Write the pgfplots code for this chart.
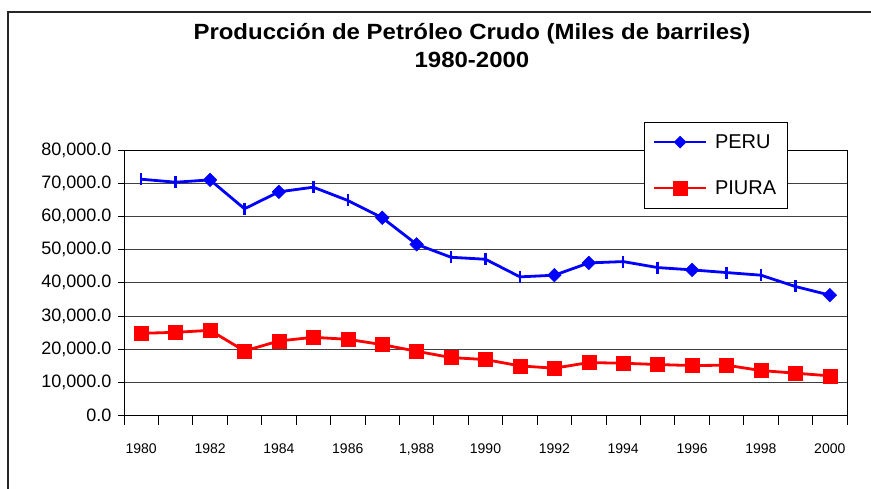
\documentclass[border=0pt]{standalone}
\usepackage{fontspec}
\setmainfont{Liberation Sans}
\usepackage{pgfplots}
\usepackage{pgfplotstable}
\pgfplotsset{compat=1.18}

% Produccion anual (miles de barriles)
\pgfplotstableread{
x  peru   piura
0  71200  24800
1  70300  25100
2  71000  25700
3  62300  19500
4  67400  22500
5  68800  23600
6  64800  23000
7  59600  21400
8  51600  19400
9  47700  17500
10 47100  16900
11 41800  15000
12 42300  14300
13 46000  16000
14 46400  15800
15 44600  15400
16 43900  15100
17 43100  15200
18 42300  13600
19 38900  12800
20 36300  12000
}\datos

\begin{document}
\begin{tikzpicture}
\begin{axis}[
    at={(124pt,73.3pt)}, anchor=south west,
    scale only axis,
    width=723pt, height=265.7pt,
    xmin=-0.5, xmax=20.5,
    ymin=0, ymax=80000,
    axis line style={black, line width=0.9pt},
    tick align=outside,
    tick pos=left,
    major tick length=9pt,
    xtick={-0.5,0.5,...,20.5},
    xticklabels={},
    x tick style={black, line width=0.9pt},
    extra x ticks={0,2,...,20},
    extra x tick labels={1980,1982,1984,1986,{1,988},1990,1992,1994,1996,1998,2000},
    extra x tick style={grid=none, tick style={draw=none}},
    xticklabel style={font=\fontsize{14}{16}\selectfont, yshift=-15pt},
    ytick={0,10000,...,80000},
    y tick style={black, line width=0.9pt, /pgfplots/major tick length=6pt},
    scaled y ticks=false,
    yticklabel style={font=\fontsize{18}{21}\selectfont,
        /pgf/number format/.cd, fixed, fixed zerofill, precision=1,
        1000 sep={,}, assume math mode=true},
    ymajorgrids,
    major grid style={black!75, line width=0.9pt},
    legend style={at={(0.719,1.105)}, anchor=north west,
        draw=black, line width=0.8pt, fill=white,
        font=\fontsize{20}{23}\selectfont,
        inner xsep=9pt, inner ysep=10pt, row sep=27pt,
        /tikz/every odd column/.append style={column sep=6pt}},
    legend cell align=left,
    clip=false,
]
\addplot[blue, line width=2.8pt, mark=square*, mark size=4.8pt,
    mark options={rotate=45, line width=0.5pt},
    mark indices={3,5,8,9,13,14,17,21},
    legend image code/.code={
      \draw[mark indices={2}, mark options={rotate=45, scale=0.75}, line width=1.8pt]
        plot coordinates {(0pt,0pt) (26pt,0pt) (52pt,0pt)};}]
    table[x=x, y=peru] {\datos};
\addlegendentry{PERU}
\addplot[blue, line width=2.4pt, only marks, mark=|, mark size=6pt,
    mark indices={1,2,4,6,7,10,11,12,15,16,18,19,20}, forget plot]
    table[x=x, y=peru] {\datos};
\addplot[red, line width=2.8pt, mark=square*, mark size=7pt,
    mark options={line width=0.5pt},
    legend image code/.code={
      \draw[mark indices={2}, line width=1.8pt]
        plot coordinates {(0pt,0pt) (26pt,0pt) (52pt,0pt)};}]
    table[x=x, y=piura] {\datos};
\addlegendentry{PIURA}
\end{axis}
\node[anchor=base, font=\bfseries\fontsize{22}{26}\selectfont, xscale=1.09, transform shape]
    at (472pt,449pt) {Producción de Petróleo Crudo (Miles de barriles)};
\node[anchor=base, font=\bfseries\fontsize{22}{26}\selectfont, xscale=1.09, transform shape]
    at (472pt,421pt) {1980-2000};
\draw[black!85, line width=1.8pt] (8pt,-20pt) -- (8pt,477pt) -- (890pt,477pt);
\pgfresetboundingbox
\useasboundingbox (0pt,0pt) rectangle (871pt,489pt);
\end{tikzpicture}
\end{document}
